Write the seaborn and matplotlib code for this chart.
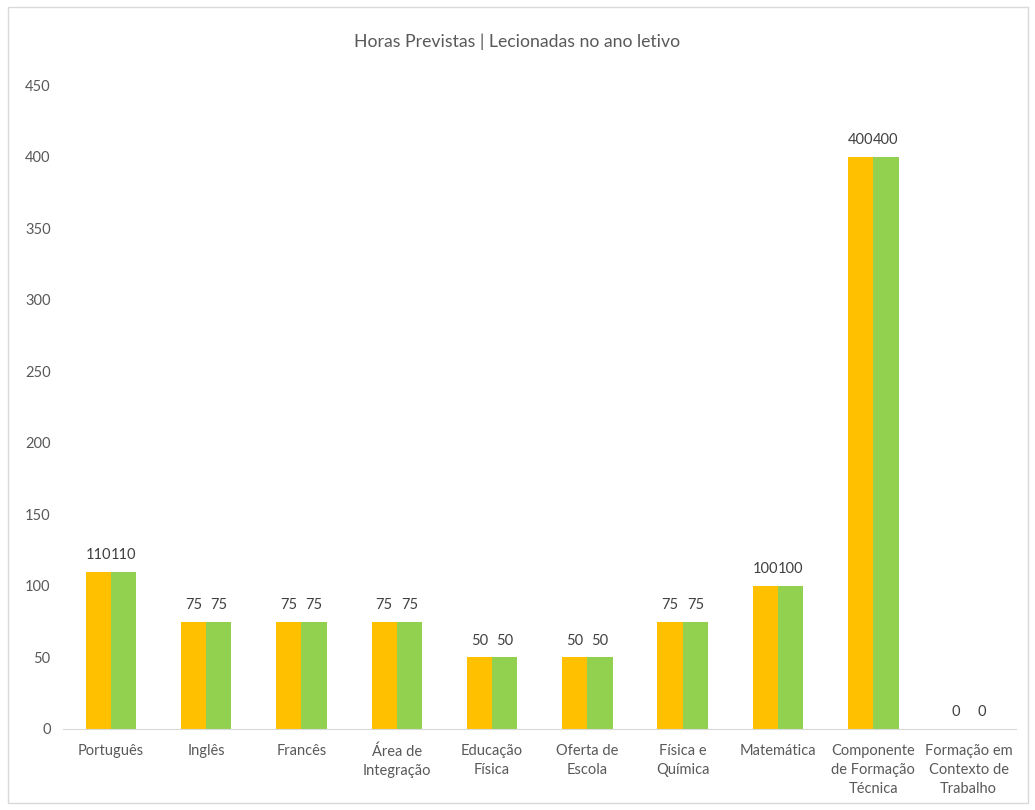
import pandas as pd
import matplotlib
matplotlib.use("Agg")
import matplotlib.pyplot as plt
import seaborn as sns
from matplotlib.patches import Rectangle

# dados
categorias = ['Português', 'Inglês', 'Francês', 'Área de\nIntegração', 'Educação\nFísica',
              'Oferta de\nEscola', 'Física e\nQuímica', 'Matemática',
              'Componente\nde Formação\nTécnica', 'Formação em\nContexto de\nTrabalho']
horas_previstas = [110, 75, 75, 75, 50, 50, 75, 100, 400, 0]
horas_lecionadas = [110, 75, 75, 75, 50, 50, 75, 100, 400, 0]
series = ['Previstas', 'Lecionadas']
cores = {'Previstas': '#FFC000', 'Lecionadas': '#92D050'}

df = pd.DataFrame({
    'categoria': categorias * 2,
    'horas': horas_previstas + horas_lecionadas,
    'serie': [series[0]] * len(categorias) + [series[1]] * len(categorias),
})

sns.set_style("white")
plt.rcParams['font.family'] = ['Lato', 'DejaVu Sans']
texto = '#595959'

fig = plt.figure(figsize=(10.35, 8.1), dpi=100)
ax = fig.add_axes([0.061, 0.1, 0.921, 0.795])

sns.barplot(data=df, x='categoria', y='horas', hue='serie', palette=cores,
            width=0.53, gap=0, ax=ax, legend=False, saturation=1, linewidth=0)

for cont in ax.containers:
    ax.bar_label(cont, padding=7, fontsize=10.5, color='#404040')

ax.set_ylim(0, 450)
ax.set_yticks(range(0, 451, 50))
ax.set_xlim(-0.5, len(categorias) - 0.5)
ax.set_xlabel('')
ax.set_ylabel('')
ax.tick_params(axis='both', length=0, labelsize=10.5, colors=texto)
ax.tick_params(axis='y', pad=9)
ax.tick_params(axis='x', pad=11)
for lbl in ax.get_xticklabels():
    lbl.set_linespacing(1.45)
sns.despine(ax=ax, left=True)
ax.spines['bottom'].set_color('#d9d9d9')

fig.text(0.5, 0.948, 'Horas Previstas | Lecionadas no ano letivo', ha='center', va='center',
         fontsize=12.7, color=texto)

# moldura do gráfico
fig.patches.append(Rectangle((8 / 1035, 7 / 810), 1020 / 1035, 796 / 810, transform=fig.transFigure,
                             fill=False, edgecolor='#d9d9d9', linewidth=1))

fig.savefig('out.png', dpi=100)
